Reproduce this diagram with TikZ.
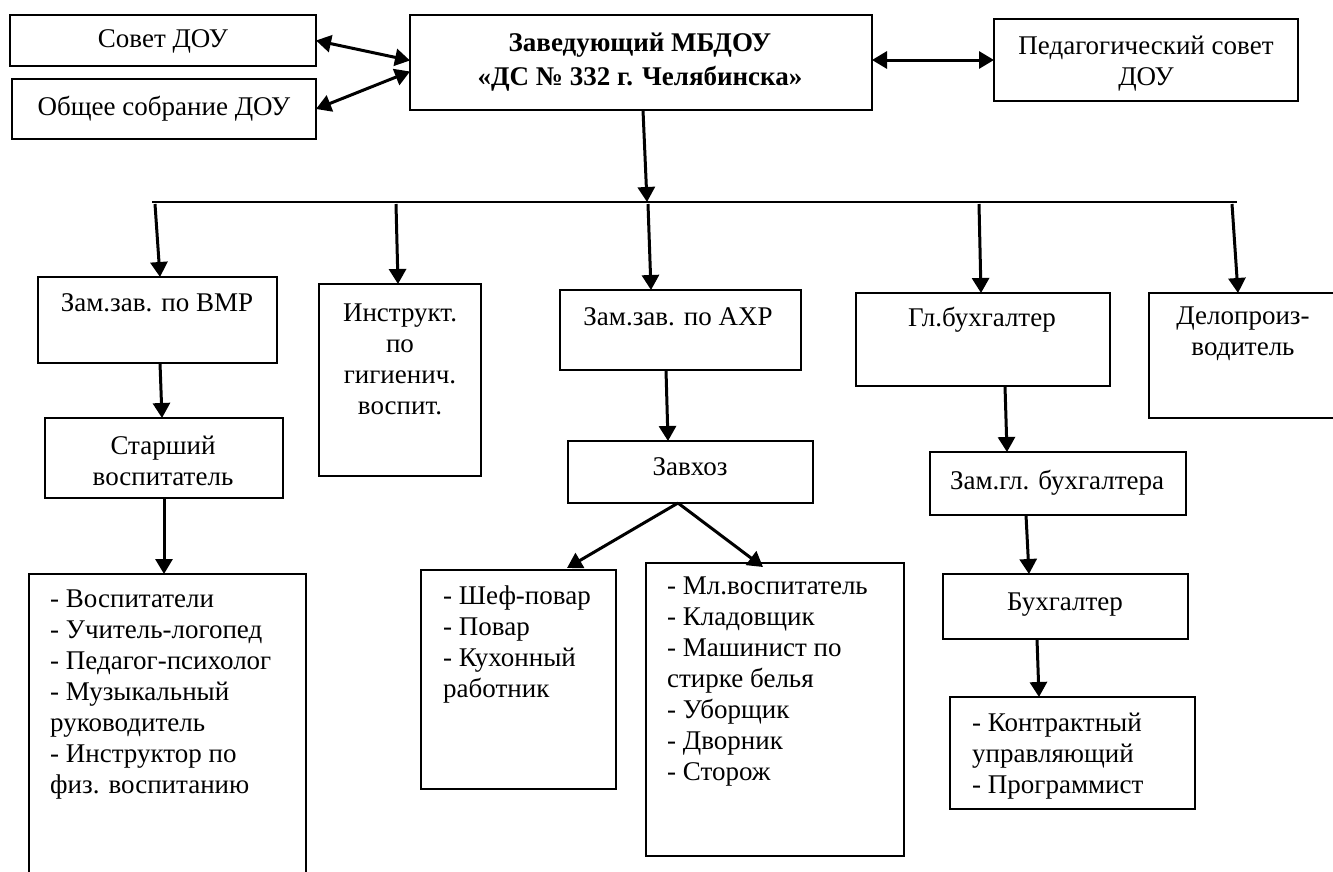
\documentclass[tikz,border=0pt]{standalone}
\usepackage{fontspec}
\setmainfont{Liberation Serif}
\usetikzlibrary{arrows.meta}
\tikzset{
  box/.style={draw, line width=1.8pt, inner sep=0pt, outer sep=0pt, anchor=north west},
  txt/.style={inner sep=0pt, font=\fontsize{27}{31}\selectfont, align=center},
  ltxt/.style={inner sep=0pt, font=\fontsize{27}{31}\selectfont, align=left, anchor=west},
  btxt/.style={inner sep=0pt, font=\fontsize{27}{34}\selectfont\bfseries, align=center},
  arr/.style={line width=3pt, -{Triangle[length=15pt,width=17pt]}},
  darr/.style={line width=3pt, {Triangle[length=15pt,width=17pt]}-{Triangle[length=15pt,width=17pt]}},
  bus/.style={line width=1.8pt}
}
\newcommand\mybox[5]{\node[box, minimum width=#4-#2, minimum height=#5-#3] (#1) at (#2,#3) {};}
\begin{document}
\begin{tikzpicture}[x=1pt,y=-1pt]
\clip (0,0) rectangle (1333,871);
\fill[white] (0,0) rectangle (1333,871);
% boxes
\mybox{sovet}{10}{15}{316}{66}
\mybox{obsh}{12}{79}{316}{139}
\mybox{zav}{410}{15}{872}{110}
\mybox{ped}{994}{19}{1298}{101}
\mybox{vmr}{38}{277}{277}{363}
\mybox{instr}{319}{284}{481}{476}
\mybox{ahr}{560}{290}{801}{370}
\mybox{glb}{856}{293}{1110}{386}
\mybox{delo}{1149}{293}{1345}{418}
\mybox{star}{45}{418}{283}{498}
\mybox{zavhoz}{568}{441}{813}{503}
\mybox{zamgl}{930}{452}{1186}{515}
\mybox{buh}{943}{574}{1188}{639}
\mybox{list1}{29}{574}{306}{900}
\mybox{shef}{421}{570}{616}{789}
\mybox{ml}{646}{563}{904}{856}
\mybox{kontr}{950}{697}{1195}{809}
% texts
\node[txt] (tsovet) at (163,41) {Совет ДОУ};
\node[txt] (tobsh) at (164,109) {Общее собрание ДОУ};
\node[btxt] (tzav) at (640,62) {Заведующий МБДОУ\\«ДС № 332 г. Челябинска»};
\node[txt] (tped) at (1146,64) {Педагогический совет\\ДОУ};
\node[txt] (tvmr) at (157,303) {Зам.зав. по ВМР};
\node[txt] (tinstr) at (400,359) {Инструкт.\\по\\гигиенич.\\воспит.};
\node[txt] (tahr) at (678,317) {Зам.зав. по АХР};
\node[txt] (tglb) at (982,320) {Гл.бухгалтер};
\node[txt] (tdelo) at (1243,334) {Делопроиз-\\водитель};
\node[txt] (tstar) at (163,461) {Старший\\воспитатель};
\node[txt] (tzavhoz) at (690,467) {Завхоз};
\node[txt] (tzamgl) at (1057,483) {Зам.гл. бухгалтера};
\node[txt] (tbuh) at (1065,605) {Бухгалтер};
\node[ltxt] (tlist1) at (50,695) {- Воспитатели\\- Учитель-логопед\\- Педагог-психолог\\- Музыкальный\\руководитель\\- Инструктор по\\физ. воспитанию};
\node[ltxt] (tshef) at (443,644) {- Шеф-повар\\- Повар\\- Кухонный\\работник};
\node[ltxt] (tml) at (667,682) {- Мл.воспитатель\\- Кладовщик\\- Машинист по\\стирке белья\\- Уборщик\\- Дворник\\- Сторож};
\node[ltxt] (tkontr) at (972,756) {- Контрактный\\управляющий\\- Программист};
% bus
\coordinate (busL) at (152,202);
\coordinate (busR) at (1237,202);
\coordinate (b0) at (647,202);
\coordinate (b1) at (155,204);
\coordinate (b2) at (396,204);
\coordinate (b3) at (648,204);
\coordinate (b4) at (979,204);
\coordinate (b5) at (1232,204);
\draw[bus] (busL) -- (busR);
% connectors
\draw[darr] (sovet.east) -- ([yshift=2pt]zav.west);
\draw[darr] (obsh.east) -- ([yshift=-9pt]zav.west);
\draw[darr] ([yshift=2.5pt]zav.east) -- (ped.west);
\draw[arr] ([xshift=2pt]zav.south) -- (b0);
\draw[arr] (b1) -- ([xshift=2.5pt]vmr.north);
\draw[arr] (b2) -- ([xshift=-2pt]instr.north);
\draw[arr] (b3) -- ([xshift=91pt]ahr.north west);
\draw[arr] (b4) -- ([xshift=-2pt]glb.north);
\draw[arr] (b5) -- ([xshift=89pt]delo.north west);
\draw[arr] ([xshift=2.5pt]vmr.south) -- ([xshift=-2pt]star.north);
\draw[arr] (star.south) -- ([xshift=-3.5pt]list1.north);
\draw[arr] ([xshift=-14.5pt]ahr.south) -- ([xshift=-22.5pt]zavhoz.north);
\draw[arr] ([xshift=-12.5pt]zavhoz.south) -- ([xshift=146pt,yshift=2pt]shef.north west);
\draw[arr] ([xshift=-12.5pt]zavhoz.south) -- ([xshift=117pt,yshift=-4pt]ml.north west);
\draw[arr] ([xshift=22pt]glb.south) -- ([xshift=-51pt]zamgl.north);
\draw[arr] ([xshift=-32pt]zamgl.south) -- ([xshift=-36.5pt]buh.north);
\draw[arr] ([xshift=-28.5pt]buh.south) -- ([xshift=-33.5pt]kontr.north);
\end{tikzpicture}
\end{document}
